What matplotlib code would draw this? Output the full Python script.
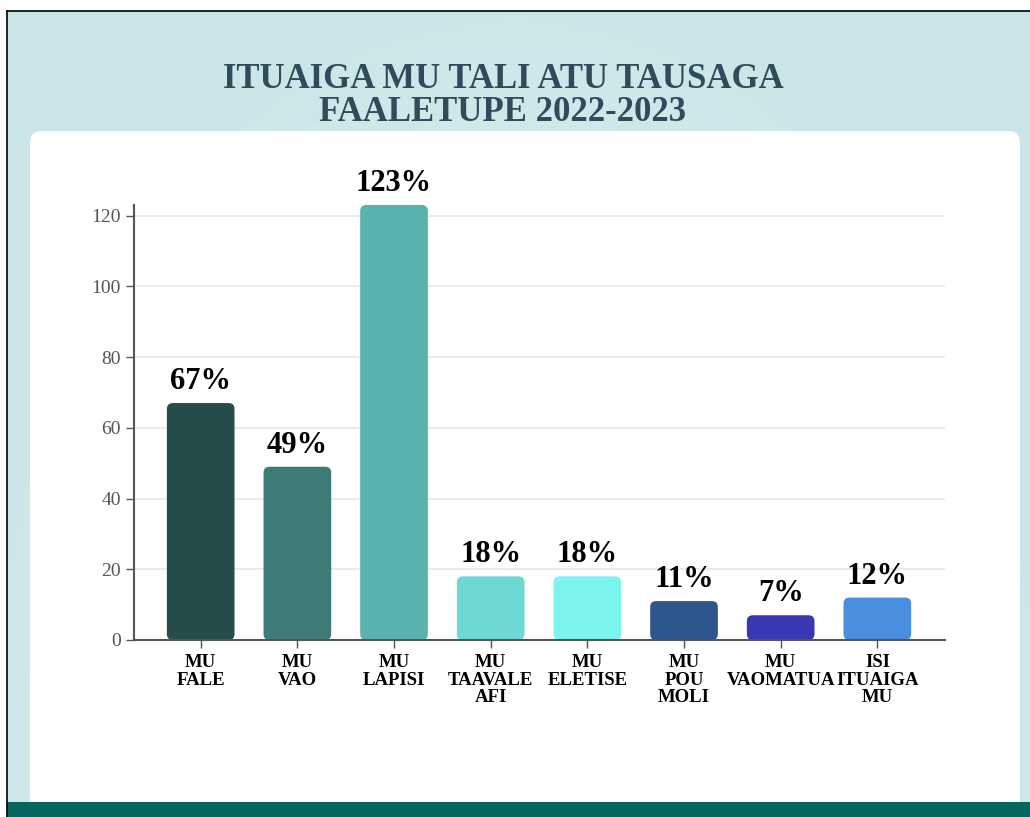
import numpy as np
import matplotlib
import matplotlib.pyplot as plt
from matplotlib.patches import FancyBboxPatch, Rectangle
from matplotlib.lines import Line2D
matplotlib.use("agg")

categories = ["MU\nFALE", "MU\nVAO", "MU\nLAPISI", "MU\nTAAVALE\nAFI", "MU\nELETISE",
              "MU\nPOU\nMOLI", "MU\nVAOMATUA", "ISI\nITUAIGA\nMU"]
values = [67, 49, 123, 18, 18, 11, 7, 12]
labels = ["67%", "49%", "123%", "18%", "18%", "11%", "7%", "12%"]
colors = ["#264d4a", "#3e7b77", "#5ab3ad", "#6dd9d3", "#7df5ef",
          "#2c568c", "#3838b2", "#4a8ee0"]
title = "ITUAIGA MU TALI ATU TAUSAGA\nFAALETUPE 2022-2023"

W, H = 1030, 817
fig = plt.figure(figsize=(W / 100, H / 100), dpi=100)
fig.patch.set_facecolor("white")

# background gradient
bg = fig.add_axes([0, 0, 1, 1])
bg.set_axis_off()
xs = np.linspace(-1, 1, 300)
ys = np.linspace(-1, 1, 200)
X, Y = np.meshgrid(xs, ys)
t = np.clip(np.sqrt(X ** 2 * 0.9 + (Y + 0.8) ** 2 * 0.3), 0, 1)
c0 = np.array([0.91, 0.96, 0.96])
c1 = np.array([0.80, 0.90, 0.91])
img = c0[None, None, :] * (1 - t[..., None]) + c1[None, None, :] * t[..., None]
bg.imshow(img, extent=[0, W, 0, H], aspect="auto", origin="upper")
bg.set_xlim(0, W)
bg.set_ylim(H, 0)
# white strip above border
bg.add_patch(Rectangle((0, 0), W, 11, facecolor="white", edgecolor="none"))
bg.add_patch(Rectangle((0, 0), 7, H, facecolor="white", edgecolor="none"))
bg.add_line(Line2D([7, W], [11, 11], color="black", lw=1.2))
bg.add_line(Line2D([7, 7], [11, H], color="black", lw=1.2))
# white card
bg.add_patch(FancyBboxPatch((30, 131), 990, 700, boxstyle="round,pad=0,rounding_size=12",
                            facecolor="white", edgecolor="none"))
# bottom bar
bg.add_patch(Rectangle((7, 802), W, 15, facecolor="#05655f", edgecolor="none"))
bg.text(503, 96, title, ha="center", va="center", fontsize=25, fontweight="bold",
        family="Liberation Serif", color="#2f4b5c", linespacing=1.0)

ax = fig.add_axes([134 / W, 1 - 640 / H, (945 - 134) / W, (640 - 205) / H])
ax.set_facecolor("none")
x = np.arange(len(categories))
bars = ax.bar(x, values, width=0.70, color=colors)
ax.set_xlim(-0.69, 7.70)
ax.set_ylim(0, 123)

# rounded bars
px_x = (945 - 134) / 8.39
px_y = (640 - 205) / 123
for b in bars:
    b.set_visible(False)
    fb = FancyBboxPatch((b.get_x(), b.get_y()), b.get_width(), b.get_height(),
                        boxstyle="round,pad=0,rounding_size=%f" % (6 / px_x),
                        mutation_aspect=px_x / px_y,
                        facecolor=b.get_facecolor(), edgecolor="none")
    ax.add_patch(fb)

for xi, v, lab in zip(x, values, labels):
    ax.annotate(lab, (xi, v), xytext=(0, 5), textcoords="offset points",
                ha="center", va="bottom", fontsize=22, fontweight="bold",
                family="Liberation Serif", color="black")

ax.set_yticks(range(0, 121, 20))
ax.grid(axis="y", color="#e6e6e6", lw=1.2)
ax.set_axisbelow(True)
ax.set_xticks(x)
ax.set_xticklabels(categories, fontsize=13.5, fontweight="bold", family="Liberation Serif",
                   linespacing=1.05)
for lab in ax.get_yticklabels():
    lab.set_family("Liberation Serif")
    lab.set_fontsize(14)
    lab.set_color("#555555")
ax.tick_params(axis="both", color="#555555", length=6, width=1)
ax.tick_params(axis="x", pad=4)
for s in ["top", "right"]:
    ax.spines[s].set_visible(False)
ax.spines["left"].set_color("#555555")
ax.spines["bottom"].set_color("#555555")
ax.spines["left"].set_linewidth(1.5)
ax.spines["bottom"].set_linewidth(1.5)

fig.savefig("out.png", dpi=100)
